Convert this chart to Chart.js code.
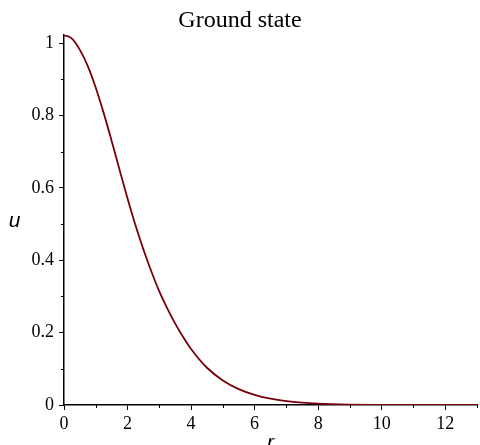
<!DOCTYPE html>
<html>
<head>
<meta charset="utf-8">
<script src="https://cdn.jsdelivr.net/npm/chart.js@4/dist/chart.umd.min.js"></script>
<style>
html,body{margin:0;padding:0;background:#fff;}
#wrap{width:480px;height:445px;position:relative;}
</style>
</head>
<body>
<div id="wrap"><canvas id="c" width="480" height="445"></canvas></div>
<script>
// ---- data ----
const rValues = [0,0.25,0.5,0.75,1,1.25,1.5,1.75,2,2.25,2.5,2.75,3,3.25,3.5,3.75,4,4.5,5,5.5,6,6.5,7,7.5,8,9,10,11,12,13];
const uValues = [1.023,1.013,0.982,0.937,0.877,0.807,0.730,0.650,0.571,0.497,0.430,0.369,0.314,0.267,0.225,0.188,0.155,0.103,0.068,0.044,0.028,0.0175,0.0107,0.0064,0.0037,0.0013,0.0004,0.00013,0.00004,0.00001];
const xMajorTicks = [0,2,4,6,8,10,12];
const yMajorTicks = [0,0.2,0.4,0.6,0.8,1];
const titleText = "Ground state";
const xLabel = "r";
const yLabel = "u";

const points = rValues.map((r,i)=>({x:r,y:uValues[i]}));
const lineColor = '#78000E';
const serif = '"Liberation Serif","Times New Roman",serif';
const sans = '"Liberation Sans",Arial,sans-serif';

function isMajor(v, list){ return list.some(t=>Math.abs(t-v)<1e-6); }

const extras = {
  id:'extras',
  afterDraw(chart){
    const {ctx, chartArea, scales} = chart;
    const xs = scales.x, ys = scales.y;
    ctx.save();
    ctx.strokeStyle = '#000';
    ctx.lineWidth = 1;
    for(let v=0; v<=13.0001; v+=1){
      if(isMajor(v,xMajorTicks)) continue;
      const px = Math.round(xs.getPixelForValue(v))+0.5;
      ctx.beginPath(); ctx.moveTo(px, chartArea.bottom); ctx.lineTo(px, chartArea.bottom+3); ctx.stroke();
    }
    for(let k=0;k<=10;k++){
      const v = k/10;
      if(isMajor(v,yMajorTicks)) continue;
      const py = Math.round(ys.getPixelForValue(v))+0.5;
      ctx.beginPath(); ctx.moveTo(chartArea.left-3, py); ctx.lineTo(chartArea.left, py); ctx.stroke();
    }
    ctx.fillStyle = '#000';
    ctx.font = 'italic 21px ' + sans;
    ctx.textAlign = 'center';
    ctx.textBaseline = 'alphabetic';
    ctx.fillText(yLabel, 14.5, 227);
    ctx.fillText(xLabel, (chartArea.left+chartArea.right)/2, 449);
    ctx.restore();
  }
};

new Chart(document.getElementById('c'), {
  type:'line',
  data:{datasets:[{data:points, borderColor:lineColor, borderWidth:1.8, pointRadius:0, fill:false, cubicInterpolationMode:'monotone'}]},
  options:{
    responsive:false, animation:false, maintainAspectRatio:false,
    layout:{padding:{left:0,right:0,top:0,bottom:0}},
    plugins:{
      legend:{display:false}, tooltip:{enabled:false},
      title:{display:true, text:titleText, color:'#000', font:{family:serif, size:24, weight:'normal', lineHeight:1.2}, padding:{top:6,bottom:0.2}}
    },
    scales:{
      x:{type:'linear', min:0, max:13,
        afterFit(s){ s.height = 40; },
        border:{display:true, color:'#000', width:1.5},
        grid:{display:true, drawOnChartArea:false, drawTicks:true, tickLength:5, tickColor:(c)=> isMajor(c.tick.value,xMajorTicks)?'#000':'rgba(0,0,0,0)'},
        ticks:{stepSize:1, includeBounds:false, autoSkip:false, maxRotation:0, padding:3, color:'#000', font:{family:serif, size:18},
          callback:(v)=> isMajor(v,xMajorTicks)? String(v) : ''}
      },
      y:{type:'linear', min:0, max:1.023,
        afterFit(s){ s.width = 64; },
        border:{display:true, color:'#000', width:1.5},
        grid:{display:true, drawOnChartArea:false, drawTicks:true, tickLength:5, tickColor:(c)=> isMajor(c.tick.value,yMajorTicks)?'#000':'rgba(0,0,0,0)'},
        ticks:{stepSize:0.1, includeBounds:false, autoSkip:false, padding:5, color:'#000', font:{family:serif, size:18},
          callback:(v)=> isMajor(v,yMajorTicks)? String(Math.round(v*10)/10) : ''}
      }
    }
  },
  plugins:[extras]
});
</script>
</body>
</html>
